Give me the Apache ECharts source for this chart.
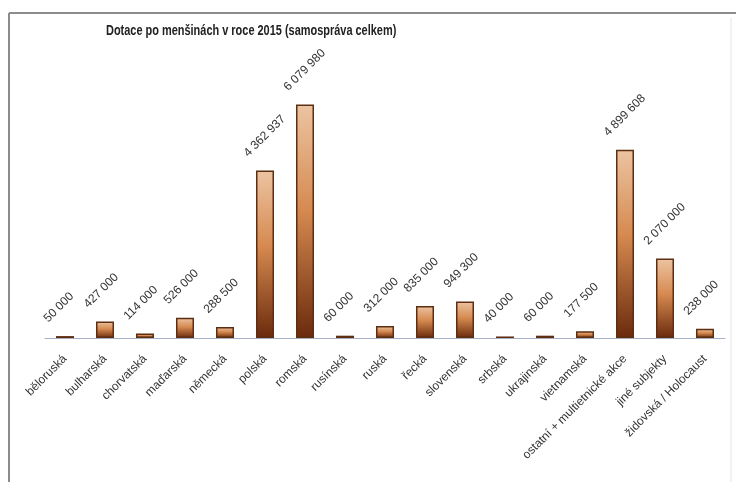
<!DOCTYPE html>
<html>
<head>
    <meta charset="utf-8">
    <style>
        html, body {
            height: 100%;
            margin: 0;
            padding: 0;
            background: #fff;
        }

        .container {
            width: 736px;
            height: 482px;
        }
    </style>
</head>
<body>
<div id="main" class="container"></div>

<script src="https://cdn.jsdelivr.net/npm/echarts@6/dist/echarts.min.js"></script>
<script type="text/javascript">
// kategorie (menšiny)
var categories = ['běloruská', 'bulharská', 'chorvatská', 'maďarská', 'německá', 'polská', 'romská',
    'rusínská', 'ruská', 'řecká', 'slovenská', 'srbská', 'ukrajinská', 'vietnamská',
    'ostatní + multietnické akce', 'jiné subjekty', 'židovská / Holocaust'];
// dotace v Kč
var dotace = [50000, 427000, 114000, 526000, 288500, 4362937, 6079980,
    60000, 312000, 835000, 949300, 40000, 60000, 177500,
    4899608, 2070000, 238000];
var titleText = 'Dotace po menšinách v roce 2015 (samospráva celkem)';

var fontName = "'Liberation Sans', Arial, sans-serif";

function formatNum(v) {
    return String(v).replace(/\B(?=(\d{3})+(?!\d))/g, ' ');
}

var myChart = echarts.init(document.getElementById('main'));

var option = {
    backgroundColor: '#ffffff',
    animation: false,
    graphic: [
        // ramecek grafu
        {type: 'line', shape: {x1: 9, y1: 13, x2: 736, y2: 13}, style: {stroke: '#8c8c8c', lineWidth: 2}},
        {type: 'line', shape: {x1: 9, y1: 13, x2: 9, y2: 482}, style: {stroke: '#8c8c8c', lineWidth: 2}},
        {type: 'line', shape: {x1: 731, y1: 18, x2: 731, y2: 482}, style: {stroke: '#e4e4e4', lineWidth: 1}},
        // nadpis - zuzeny jako Arial Narrow
        {
            type: 'text',
            x: 106,
            y: 23,
            scaleX: 0.73,
            style: {
                text: titleText,
                font: 'bold 15px ' + fontName,
                fill: '#222'
            }
        }
    ],
    grid: {
        left: 45,
        right: 11,
        top: 50,
        bottom: 144
    },
    xAxis: {
        type: 'category',
        data: categories,
        axisLine: {lineStyle: {color: '#a9b0c4', width: 1}},
        axisTick: {show: false},
        axisLabel: {
            interval: 0,
            rotate: 45,
            margin: 19,
            color: '#333',
            fontSize: 12,
            fontFamily: fontName
        }
    },
    yAxis: {
        type: 'value',
        min: 0,
        max: 7500000,
        show: false,
        splitLine: {show: false}
    },
    series: [
        {
            type: 'bar',
            data: dotace,
            barWidth: 18,
            itemStyle: {
                borderColor: '#5e2e12',
                borderWidth: 1.5,
                color: {
                    type: 'linear', x: 0, y: 0, x2: 0, y2: 1,
                    colorStops: [
                        {offset: 0, color: '#ecc4a2'},
                        {offset: 0.45, color: '#d68a50'},
                        {offset: 1, color: '#6a2a0c'}
                    ]
                }
            },
            label: {
                show: true,
                position: 'top',
                rotate: 45,
                align: 'left',
                verticalAlign: 'middle',
                offset: [-6, -21],
                color: '#333',
                fontSize: 12,
                fontFamily: fontName,
                formatter: function (p) {
                    return formatNum(p.value);
                }
            }
        }
    ]
};

myChart.setOption(option);
</script>
</body>
</html>
